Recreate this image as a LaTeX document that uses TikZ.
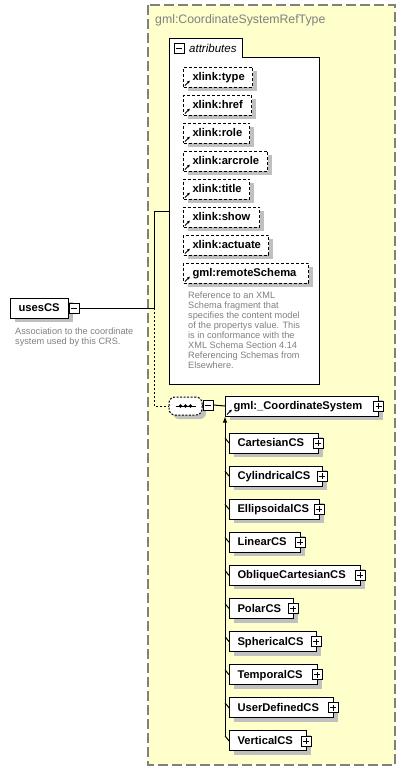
\documentclass[tikz,border=0pt]{standalone}
\usepackage{fontspec}
\setmainfont{Liberation Sans}
\usepackage{tikz}
\usetikzlibrary{arrows.meta, shadows}
\definecolor{typefill}{RGB}{255,255,204}
\definecolor{shadegray}{RGB}{192,192,192}
\definecolor{docgray}{RGB}{128,128,128}
\tikzset{
  dropgray/.style={drop shadow={shadow xshift=4pt, shadow yshift=-4pt, fill=shadegray, opacity=1}},
  elem/.style={draw, fill=white, line width=1pt, dropgray, minimum height=20pt, inner ysep=0pt, inner xsep=8pt,
    align=left, text height=8.5pt, text depth=1.5pt, font=\fontsize{11.2}{13}\selectfont\bfseries},
  attr/.style={elem, dash pattern=on 3pt off 2pt, inner xsep=9pt},
  sqbox/.style={draw, fill=white, line width=0.8pt, minimum size=10pt, inner sep=0pt},
  plusbox/.style={sqbox, path picture={
    \draw[line width=0.8pt] ([xshift=2pt]path picture bounding box.west) -- ([xshift=-2pt]path picture bounding box.east);
    \draw[line width=0.8pt] ([yshift=-2pt]path picture bounding box.north) -- ([yshift=2pt]path picture bounding box.south);}},
  minusbox/.style={sqbox, path picture={
    \draw[line width=0.8pt] ([xshift=2pt]path picture bounding box.west) -- ([xshift=-2pt]path picture bounding box.east);}},
  doc/.style={anchor=north west, inner sep=0pt, align=left, text=docgray, font=\fontsize{9.2}{10}\selectfont},
  wire/.style={line width=1pt},
  refmark/.style={-{Latex[length=3pt,width=3pt]}, line width=0.9pt}
}
\newcommand{\refarrow}[1]{\draw[refmark] ([xshift=2pt,yshift=2pt]#1.south west) -- ++(5pt,5pt);}

\begin{document}
\begin{tikzpicture}[x=1pt, y=-1pt]
\useasboundingbox (0,0) rectangle (406,772);
\draw[docgray, fill=typefill, line width=1.5pt, dash pattern=on 10pt off 4pt] (148,5) rectangle (395,765);
\node[anchor=base west, inner sep=0pt, text=docgray, font=\fontsize{12.3}{14}\selectfont] (tname) at (155,23.3) {gml:CoordinateSystemRefType};

% attribute group
\draw[wire, fill=white] (169,384) -- (169,38) -- (242,38) -- (242,57) -- (319,57) -- (319,384) -- cycle;
\node[minusbox] (attrmin) at (179,48) {};
\node[anchor=base west, inner sep=0pt, font=\fontsize{11.5}{13}\selectfont\itshape] (attrlbl) at (189,52) {attributes};
\foreach \aname/\rx [count=\i] in {xlink:type/252, xlink:href/251, xlink:role/249, xlink:arcrole/267,
    xlink:title/249, xlink:show/259, xlink:actuate/268, gml:remoteSchema/308} {
  \pgfmathsetmacro\ay{77+28*(\i-1)}
  \pgfmathsetmacro\tw{\rx-183-18}
  \node[attr, text width=\tw pt, anchor=west] (a\i) at (183,\ay) {\aname};
  \refarrow{a\i}
}
\node[doc] (adoc) at (188,291.4) {Reference to an XML\\Schema fragment that\\specifies the content model\\of the propertys value. This\\is in conformance with the\\XML Schema Section 4.14\\Referencing Schemas from\\Elsewhere.};

% element
\node[elem, text width=42pt, anchor=west] (uses) at (10,308) {usesCS};
\node[minusbox, anchor=west] (usesmin) at (uses.east) {};
\node[doc] (usesdoc) at (15,327.5) {Association to the coordinate\\system used by this CRS.};

\coordinate (fork) at (154,308);
\coordinate (attrin) at (169,211);
\draw[wire] (usesmin.east) -- (fork);
\draw[wire] (fork) |- (attrin);

% sequence
\node[elem, rounded corners=6pt, dash pattern=on 2pt off 1.5pt, minimum width=33pt, minimum height=18pt, inner sep=0pt] (seq) at (185.5,406) {};
\draw[wire, dash pattern=on 2pt off 2pt] (fork) |- (seq.west);
\draw[line width=0.8pt] ([xshift=-10pt]seq.center) -- ([xshift=10pt]seq.center);
\foreach \dx in {-5,0,5}
  \fill ([xshift=\dx pt]seq.center) circle (1.8pt);
\node[minusbox] (seqmin) at (208,405) {};
\draw[wire] (seq.east) -- (seqmin.west);

\node[elem, text width=137pt, anchor=west] (csys) at (225,406) {gml:\_CoordinateSystem};
\refarrow{csys}
\node[plusbox] (csysplus) at ([xshift=-0.5pt]csys.east) {};
\draw[wire] (seqmin.east) -- (csys.west);
\coordinate (trunk) at (225,736);
\draw[wire, -{Latex[length=6pt,width=4.5pt]}] (trunk) -- (csys.south west);

% substitution group members
\foreach \cname/\rx [count=\i] in {CartesianCS/318, CylindricalCS/322, EllipsoidalCS/319, LinearCS/300,
    ObliqueCartesianCS/360, PolarCS/293, SphericalCS/316, TemporalCS/317, UserDefinedCS/333, VerticalCS/306} {
  \pgfmathsetmacro\cy{443+33.1*(\i-1)}
  \pgfmathsetmacro\tw{\rx-229-16}
  \node[elem, text width=\tw pt, anchor=west] (cs\i) at (229,\cy) {\cname};
  \node[plusbox] (csp\i) at ([xshift=-1pt]cs\i.east) {};
  \coordinate (tk\i) at (225,\cy-5);
  \draw[wire] (tk\i) -- (cs\i.west);
}
\end{tikzpicture}
\end{document}
